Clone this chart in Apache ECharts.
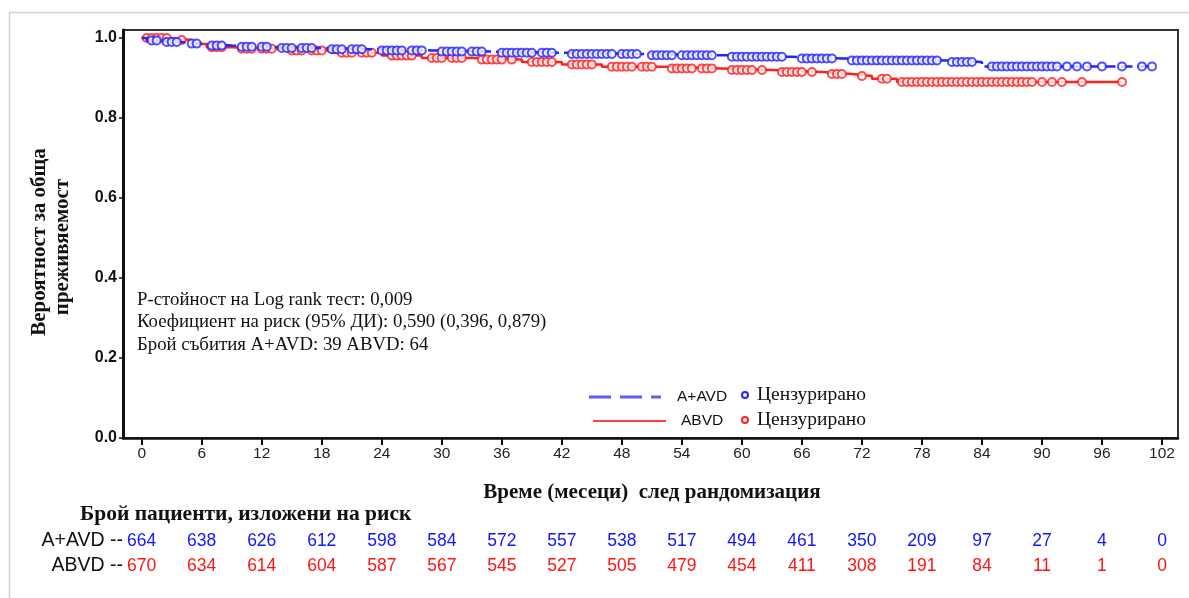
<!DOCTYPE html>
<html>
<head>
<meta charset="utf-8">
<script src="https://cdn.jsdelivr.net/npm/echarts@6/dist/echarts.min.js"></script>
<style>
  html, body { margin: 0; padding: 0; background: #fff; }
  #chart { width: 1189px; height: 598px; }
</style>
</head>
<body>
<div id="chart"></div>
<script>
// Криви на преживяемост (стъпки) — прочетени от картинката
const blueT = [0, 0.5, 2, 4, 6, 9, 13, 18, 23, 29, 35, 42, 50, 58, 65, 70, 80.5, 84, 101];
const blueS = [1.0, 0.994, 0.99, 0.986, 0.981, 0.978, 0.975, 0.972, 0.969, 0.966, 0.963, 0.960, 0.957, 0.953, 0.949, 0.944, 0.940, 0.929, 0.929];
const redT = [0, 3, 5, 6.5, 9, 14, 19, 24, 28, 33, 38, 42, 46, 52, 58, 63, 68, 71, 73, 75.5, 98];
const redS = [1.0, 0.995, 0.985, 0.977, 0.973, 0.969, 0.963, 0.956, 0.950, 0.946, 0.940, 0.934, 0.928, 0.924, 0.920, 0.915, 0.910, 0.905, 0.898, 0.890, 0.890];

// Цензурирани наблюдения (месеци) — много гъсти
const blueCens = [1, 1.5, 2.5, 3, 3.5, 5, 5.5, 7, 7.5, 8, 10, 10.5, 11, 12, 12.5, 14, 14.5, 15, 16, 16.5, 17, 19, 19.5, 20, 21, 21.5, 22,
  24, 24.5, 25, 25.5, 26, 27, 27.5, 28, 30, 30.5, 31, 31.5, 32, 33, 33.5, 34, 36, 36.5, 37, 37.5, 38, 38.5, 39, 40, 40.5, 41,
  43, 43.5, 44, 44.5, 45, 45.5, 46, 46.5, 47, 48, 48.5, 49, 49.5, 51, 51.5, 52, 52.5, 53, 54, 54.5, 55, 55.5, 56, 56.5, 57,
  59, 59.5, 60, 60.5, 61, 61.5, 62, 62.5, 63, 63.5, 64, 66, 66.5, 67, 67.5, 68, 68.5, 69, 71, 71.5, 72, 72.5, 73, 73.5, 74,
  74.5, 75, 75.5, 76, 76.5, 77, 77.5, 78, 78.5, 79, 79.5, 81, 81.5, 82, 82.5, 83, 85, 85.5, 86, 86.5, 87, 87.5, 88, 88.5, 89,
  89.5, 90, 90.5, 91, 91.5, 92.5, 93.5, 94.5, 96, 98, 100, 101];
const redCens = [0.5, 1, 1.5, 2, 2.5, 4, 7, 7.5, 8, 10, 10.5, 11, 12, 12.5, 13, 15, 15.5, 16, 17, 17.5, 18, 20, 20.5, 21, 22, 22.5, 23,
  25, 25.5, 26, 26.5, 27, 29, 29.5, 30, 31, 31.5, 32, 34, 34.5, 35, 35.5, 36, 37, 39, 39.5, 40, 40.5, 41, 43, 43.5, 44, 44.5,
  45, 47, 47.5, 48, 48.5, 49, 50, 50.5, 51, 53, 53.5, 54, 54.5, 55, 56, 56.5, 57, 59, 59.5, 60, 60.5, 61, 62, 64, 64.5, 65,
  65.5, 66, 67, 69, 69.5, 70, 72, 74, 74.5, 76, 76.5, 77, 77.5, 78, 78.5, 79, 79.5, 80, 80.5, 81, 81.5, 82, 82.5, 83, 83.5,
  84, 84.5, 85, 85.5, 86, 86.5, 87, 87.5, 88, 88.5, 89, 90, 91, 92, 94, 98];

// Оси и таблица с риск
const xTicks = [0, 6, 12, 18, 24, 30, 36, 42, 48, 54, 60, 66, 72, 78, 84, 90, 96, 102];
const yTicks = [0, 0.2, 0.4, 0.6, 0.8, 1.0];
const riskBlue = [664, 638, 626, 612, 598, 584, 572, 557, 538, 517, 494, 461, 350, 209, 97, 27, 4, 0];
const riskRed = [670, 634, 614, 604, 587, 567, 545, 527, 505, 479, 454, 411, 308, 191, 84, 11, 1, 0];

const annot = [
  'P-стойност на Log rank тест: 0,009',
  'Коефициент на риск (95% ДИ): 0,590 (0,396, 0,879)',
  'Брой събития A+AVD: 39 ABVD: 64'
];

const BLUE = '#2424ff';
const RED = '#ff2020';
const SERIF = '"Liberation Serif", "Times New Roman", serif';
const SANS = '"Liberation Sans", Arial, sans-serif';

function stepAt(ts, ss, t) {
  let v = ss[0];
  for (let i = 0; i < ts.length; i++) { if (ts[i] <= t) v = ss[i]; }
  return v;
}
const pairs = (ts, ss) => ts.map((t, i) => [t, ss[i]]);
const censPts = (cs, ts, ss) => cs.map(t => [t, stepAt(ts, ss, t)]);

const chart = echarts.init(document.getElementById('chart'));

chart.setOption({
  animation: false,
  grid: { left: 123, top: 30, right: 11, bottom: 160, show: true, borderColor: '#333', borderWidth: 2 },
  xAxis: {
    type: 'value', min: -1.87, max: 103.6,
    splitLine: { show: false },
    axisLine: { onZero: false, lineStyle: { color: '#111', width: 2.5 } },
    axisTick: { customValues: xTicks, length: 7, lineStyle: { color: '#111', width: 2 } },
    axisLabel: { customValues: xTicks, color: '#222', fontFamily: SANS, fontSize: 15.5, margin: 8 }
  },
  yAxis: {
    type: 'value', min: 0, max: 1.02,
    splitLine: { show: false },
    axisLine: { onZero: false, lineStyle: { color: '#111', width: 3 } },
    axisTick: { customValues: yTicks, length: 4, lineStyle: { color: '#111', width: 1.5 } },
    axisLabel: { customValues: yTicks, formatter: v => v.toFixed(1), color: '#111', fontFamily: SANS, fontWeight: 'bold', fontSize: 16, margin: 6 }
  },
  series: [
    { type: 'line', step: 'end', data: pairs(redT, redS), symbol: 'none', lineStyle: { color: RED, width: 2.5 }, z: 2 },
    { type: 'scatter', data: censPts(redCens, redT, redS), symbol: 'circle', symbolSize: 8,
      itemStyle: { color: '#fff', borderColor: RED, borderWidth: 2 }, z: 3 },
    { type: 'line', step: 'end', data: pairs(blueT, blueS), symbol: 'none', lineStyle: { color: BLUE, width: 2.5, type: [12, 5] }, z: 4 },
    { type: 'scatter', data: censPts(blueCens, blueT, blueS), symbol: 'circle', symbolSize: 8,
      itemStyle: { color: '#fff', borderColor: BLUE, borderWidth: 2 }, z: 5 }
  ]
});

// Графични елементи: текстове, легенда, таблица с риск
const g = [];
g.push({ type: 'rect', shape: { x: 9.5, y: 12.5, width: 1200, height: 600 }, style: { fill: 'none', stroke: '#d4d4d4', lineWidth: 1.5 }, silent: true, z: -1 });
g.push({ type: 'text', x: 40, y: 242, rotation: Math.PI / 2,
  style: { text: 'Вероятност за обща', font: 'bold 21px ' + SERIF, fill: '#111', align: 'center', verticalAlign: 'middle' } });
g.push({ type: 'text', x: 63, y: 247, rotation: Math.PI / 2,
  style: { text: 'преживяемост', font: 'bold 21px ' + SERIF, fill: '#111', align: 'center', verticalAlign: 'middle' } });

annot.forEach((s, i) => g.push({ type: 'text', x: 137, y: 300 + i * 22.5,
  style: { text: s, font: '18.8px ' + SERIF, fill: '#111', verticalAlign: 'middle' } }));

// Легенда
g.push({ type: 'line', shape: { x1: 589, y1: 397, x2: 661, y2: 397 }, style: { stroke: '#5c5cff', lineWidth: 3, lineDash: [22, 9] } });
g.push({ type: 'text', x: 677, y: 397, style: { text: 'A+AVD', font: '15.5px ' + SANS, fill: '#111', verticalAlign: 'middle' } });
g.push({ type: 'circle', shape: { cx: 745, cy: 395, r: 3 }, style: { fill: '#fff', stroke: BLUE, lineWidth: 2 } });
g.push({ type: 'text', x: 757, y: 395, style: { text: 'Цензурирано', font: '19.5px ' + SERIF, fill: '#111', verticalAlign: 'middle' } });
g.push({ type: 'line', shape: { x1: 593, y1: 421, x2: 666, y2: 421 }, style: { stroke: '#ff4040', lineWidth: 2 } });
g.push({ type: 'text', x: 681, y: 421, style: { text: 'ABVD', font: '15.5px ' + SANS, fill: '#111', verticalAlign: 'middle' } });
g.push({ type: 'circle', shape: { cx: 745, cy: 420, r: 3 }, style: { fill: '#fff', stroke: RED, lineWidth: 2 } });
g.push({ type: 'text', x: 757, y: 420, style: { text: 'Цензурирано', font: '19.5px ' + SERIF, fill: '#111', verticalAlign: 'middle' } });

// Заглавие на оста X и таблица
g.push({ type: 'text', x: 652, y: 493, style: { text: 'Време (месеци)  след рандомизация', font: 'bold 21px ' + SERIF, fill: '#111', align: 'center', verticalAlign: 'middle' } });
g.push({ type: 'text', x: 80, y: 514, style: { text: 'Брой пациенти, изложени на риск', font: 'bold 21.5px ' + SERIF, fill: '#111', verticalAlign: 'middle' } });
g.push({ type: 'text', x: 123, y: 541, style: { text: 'A+AVD --', font: '19.5px ' + SANS, fill: '#111', align: 'right', verticalAlign: 'middle' } });
g.push({ type: 'text', x: 123, y: 566, style: { text: 'ABVD --', font: '19.5px ' + SANS, fill: '#111', align: 'right', verticalAlign: 'middle' } });
xTicks.forEach((t, i) => {
  const px = chart.convertToPixel({ xAxisIndex: 0 }, t);
  g.push({ type: 'text', x: px, y: 541, style: { text: String(riskBlue[i]), font: '17.5px ' + SANS, fill: '#1414ff', align: 'center', verticalAlign: 'middle' } });
  g.push({ type: 'text', x: px, y: 566, style: { text: String(riskRed[i]), font: '17.5px ' + SANS, fill: '#ff1414', align: 'center', verticalAlign: 'middle' } });
});
chart.setOption({ graphic: g });
</script>
</body>
</html>
